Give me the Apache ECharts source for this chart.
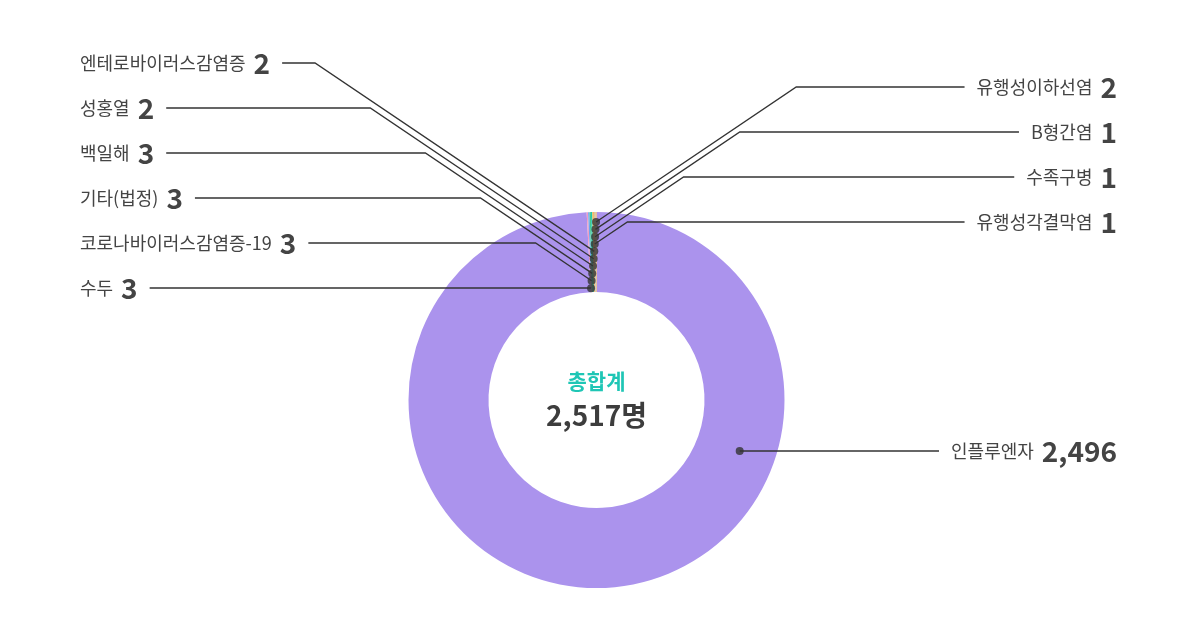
<!DOCTYPE html>
<html><head><meta charset="utf-8">
<script src="https://cdn.jsdelivr.net/npm/echarts@6/dist/echarts.min.js"></script>
<style>html,body{margin:0;padding:0;background:#fff}#c{width:1200px;height:640px}</style>
</head><body><div id="c"></div>
<script>
// ---- data ----
const categories = ['인플루엔자','수두','코로나바이러스감염증-19','기타(법정)','백일해','성홍열','엔테로바이러스감염증','유행성각결막염','수족구병','B형간염','유행성이하선염'];
const values = [2496, 3, 3, 3, 3, 2, 2, 1, 1, 1, 2];
const sides = ['main','left','left','left','left','left','left','right','right','right','right'];
const colors = ['#ab93ed','#f39bc1','#6aa6f2','#43c98a','#1fc6b5','#f6c24a','#f59b53','#ff8f86','#9fd36a','#82c3ff','#ffb347'];
const totalLabel = '총합계';
const unit = '명';

// ---- layout constants ----
const FONT = '"Noto Sans CJK KR","Noto Sans",sans-serif';
const CX = 596.5, CY = 400, R_IN = 108, R_OUT = 188;
const LEFT_X = 80, RIGHT_X = 1117;
const LEFT_BOTTOM_Y = 288, RIGHT_BOTTOM_Y = 222, ROW_GAP = 45;
const DOT_R0 = 112, DOT_STEP = 7.33;
const MAIN_DOT_R = 152, MAIN_DOT_DEG = 109.6;
const SLOPE = 0.6745, TEXT_GAP = 12;

const total = values.reduce((a, b) => a + b, 0);
const cum = [];
values.reduce((acc, v, i) => { cum[i] = acc; return acc + v; }, 0);

function dotPolar(i) {
  if (sides[i] === 'main') return [MAIN_DOT_R, MAIN_DOT_DEG / 360 * total];
  return [DOT_R0 + DOT_STEP * (i - 1), cum[i] + values[i] / 2];
}
function dotPixel(i) {
  const p = dotPolar(i);
  const th = p[1] / total * Math.PI * 2;
  return [CX + p[0] * Math.sin(th), CY - p[0] * Math.cos(th)];
}
function rowIndex(i) {
  let k = 0;
  for (let j = 1; j < i; j++) if (sides[j] === sides[i]) k++;
  return k;
}

const pieBase = {
  type: 'pie',
  center: [CX, CY],
  radius: [R_IN, R_OUT],
  startAngle: 90,
  clockwise: true,
  avoidLabelOverlap: false,
  emphasis: { disabled: true },
  silent: true
};

const chart = echarts.init(document.getElementById('c'));
chart.setOption({
  backgroundColor: '#fff',
  animation: false,
  polar: { center: [CX, CY], radius: R_OUT },
  angleAxis: { type: 'value', min: 0, max: total, startAngle: 90, clockwise: true, show: false },
  radiusAxis: { type: 'value', min: 0, max: R_OUT, show: false },
  graphic: [
    { type: 'text', x: CX, y: 381, z: 20,
      style: { text: totalLabel, fill: '#1fc6b5', font: 'bold 21px ' + FONT, align: 'center', verticalAlign: 'middle' } },
    { type: 'text', x: CX, y: 415, z: 20,
      style: { text: total.toLocaleString('en-US') + unit, fill: '#3d3d3d', font: 'bold 28px ' + FONT, align: 'center', verticalAlign: 'middle' } }
  ],
  series: [
    Object.assign({}, pieBase, {
      z: 2,
      itemStyle: { borderWidth: 0 },
      label: { show: false },
      labelLine: { show: false },
      data: categories.map((n, i) => ({ name: n, value: values[i], itemStyle: { color: colors[i] } }))
    }),
    Object.assign({}, pieBase, {
      z: 6,
      itemStyle: { color: 'rgba(0,0,0,0)', borderWidth: 0 },
      data: categories.map((n, i) => ({ name: n, value: values[i] })),
      label: {
        show: true,
        position: 'outside',
        formatter: p => '{n|' + p.name + '}{v|' + p.value.toLocaleString('en-US') + '}',
        rich: {
          n: { fontSize: 18, color: '#444', fontFamily: FONT, lineHeight: 32 },
          v: { fontSize: 28, fontWeight: 'bold', color: '#444', fontFamily: FONT, lineHeight: 32, padding: [0, 0, 0, 8] }
        }
      },
      labelLine: { show: true, smooth: false, lineStyle: { color: '#333', width: 1.3 } },
      labelLayout: function (p) {
        const i = p.dataIndex;
        const d = dotPixel(i);
        const w = p.labelRect.width;
        if (sides[i] === 'left') {
          const y = LEFT_BOTTOM_Y - ROW_GAP * rowIndex(i);
          const bx = d[0] - (d[1] - y) / SLOPE;
          return { x: LEFT_X, y: y, align: 'left', verticalAlign: 'middle', hideOverlap: false,
            labelLinePoints: [d, [bx, y], [LEFT_X + w + TEXT_GAP, y]] };
        } else if (sides[i] === 'right') {
          const y = RIGHT_BOTTOM_Y - ROW_GAP * rowIndex(i);
          const bx = d[0] + (d[1] - y) / SLOPE;
          return { x: RIGHT_X, y: y, align: 'right', verticalAlign: 'middle', hideOverlap: false,
            labelLinePoints: [d, [bx, y], [RIGHT_X - w - TEXT_GAP, y]] };
        }
        const y = d[1];
        return { x: RIGHT_X, y: y, align: 'right', verticalAlign: 'middle', hideOverlap: false,
          labelLinePoints: [d, [(d[0] + RIGHT_X - w - TEXT_GAP) / 2, y], [RIGHT_X - w - TEXT_GAP, y]] };
      }
    }),
    {
      type: 'scatter',
      coordinateSystem: 'polar',
      symbolSize: 8,
      z: 10,
      silent: true,
      itemStyle: { color: '#333' },
      data: categories.map((n, i) => dotPolar(i))
    }
  ]
});
</script>
</body></html>
